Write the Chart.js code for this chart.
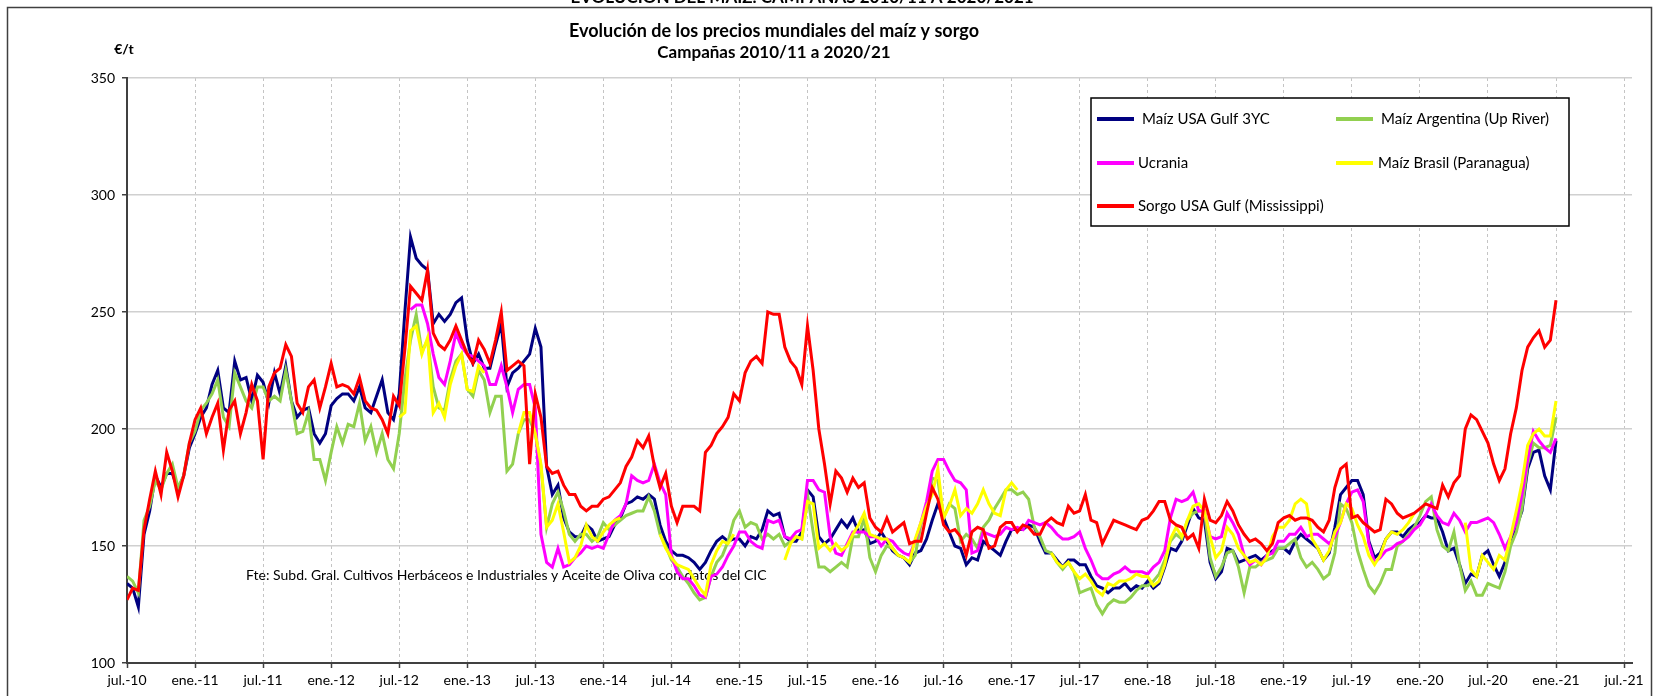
<!DOCTYPE html>
<html>
<head>
<meta charset="utf-8">
<script src="https://cdn.jsdelivr.net/npm/chart.js@4"></script>
<style>
  html, body { margin: 0; padding: 0; background: #fff; }
</style>
</head>
<body>
<canvas id="line-chart" width="1665" height="696"></canvas>
<script>
let tickLabels = [
  'jul.-10', 'ene.-11', 'jul.-11', 'ene.-12', 'jul.-12', 'ene.-13', 'jul.-13', 'ene.-14',
  'jul.-14', 'ene.-15', 'jul.-15', 'ene.-16', 'jul.-16', 'ene.-17', 'jul.-17', 'ene.-18',
  'jul.-18', 'ene.-19', 'jul.-19', 'ene.-20', 'jul.-20', 'ene.-21', 'jul.-21',
];

let usaGulf = [
  134, 132, 124, 155, 165, 180, 175, 181, 181, 174, 180, 192,
  198, 205, 209, 219, 225, 209, 207, 229, 221, 222, 212, 223,
  220, 211, 224, 215, 227, 212, 205, 208, 209, 198, 194, 198,
  210, 213, 215, 215, 212, 218, 209, 207, 214, 221, 207, 204,
  215, 250, 282, 273, 270, 268, 245, 249, 246, 249, 254, 256,
  238, 228, 232, 226, 226, 236, 245, 218, 224, 226, 229, 232,
  243, 235, 184, 172, 176, 162, 156, 154, 154, 159, 157, 152,
  153, 154, 159, 162, 168, 169, 171, 170, 172, 170, 159, 152,
  148, 146, 146, 145, 143, 140, 143, 148, 152, 154, 152, 153,
  153, 150, 154, 153, 157, 165, 163, 164, 154, 152, 152, 156,
  174, 171, 154, 151, 153, 157, 161, 158, 162, 156, 157, 151,
  152, 156, 152, 148, 146, 145, 142, 147, 148, 153, 161, 168,
  162, 156, 150, 149, 142, 145, 144, 152, 150, 148, 146, 152,
  157, 157, 157, 159, 158, 152, 147, 147, 144, 141, 144, 144,
  142, 142, 137, 133, 132, 130, 132, 132, 134, 131, 133, 132,
  135, 132, 134, 141, 149, 148, 152, 159, 166, 162, 161, 143,
  136, 139, 149, 148, 143, 144, 145, 146, 144, 146, 148, 149,
  149, 147, 152, 155, 153, 151, 149, 144, 147, 158, 172, 175,
  178, 178, 172, 152, 145, 147, 153, 156, 156, 154, 157, 159,
  160, 163, 162, 162, 156, 148, 149, 142, 134, 138, 137, 146,
  148, 142, 137, 143, 153, 158, 165, 183, 190, 191, 180, 174,
  195,
];

let argentina = [
  137, 135, 130, 161, 167, 178, 174, 181, 185, 175, 180, 194,
  199, 208, 211, 215, 221, 205, 201, 224, 218, 212, 209, 218,
  218, 212, 214, 212, 225, 212, 198, 199, 207, 187, 187, 178,
  190, 201, 194, 202, 201, 211, 195, 201, 190, 198, 187, 183,
  198, 221, 238, 249, 233, 238, 218, 209, 208, 221, 229, 232,
  217, 214, 225, 221, 207, 214, 214, 182, 185, 198, 204, 204,
  198, 184, 158, 168, 173, 165, 155, 152, 155, 155, 152, 154,
  160, 157, 159, 161, 163, 164, 165, 165, 171, 165, 155, 150,
  144, 141, 137, 134, 130, 127, 128, 137, 143, 146, 152, 161,
  165, 158, 160, 159, 153, 155, 153, 155, 150, 152, 154, 153,
  172, 156, 141, 141, 139, 141, 143, 141, 154, 154, 162, 145,
  139, 146, 150, 149, 146, 145, 143, 146, 159, 166, 179, 178,
  162, 168, 166, 152, 155, 153, 149, 158, 161, 166, 170, 174,
  174, 172, 173, 170, 158, 154, 148, 147, 143, 140, 143, 139,
  130, 131, 132, 125, 121, 125, 127, 126, 126, 128, 131, 133,
  133, 135, 138, 144, 152, 155, 153, 161, 164, 165, 165, 145,
  137, 141, 147, 148, 141, 130, 141, 141, 143, 144, 145, 149,
  149, 151, 153, 145, 141, 143, 140, 136, 138, 147, 168, 166,
  160, 148, 140, 133, 130, 134, 140, 140, 150, 152, 155, 158,
  163, 169, 171, 157, 150, 148, 156, 142, 131, 135, 129, 129,
  134, 133, 132, 139, 150, 156, 166, 185, 194, 192, 192, 193,
  205,
];

let ucrania = [
  null, null, null, null, null, null, null, null, null, null, null, null,
  null, null, null, null, null, null, null, null, null, null, null, null,
  null, null, null, null, null, null, null, null, null, null, null, null,
  null, null, null, null, null, null, null, null, null, null, null, null,
  null, null, 251, 253, 253, 245, 232, 222, 219, 229, 241, 235,
  232, 231, 229, 227, 219, 219, 227, 218, 207, 217, 219, 219,
  209, 155, 143, 141, 149, 141, 142, 145, 147, 150, 149, 150,
  149, 155, 161, 163, 168, 180, 178, 177, 178, 185, 177, 172,
  146, 139, 136, 136, 133, 129, 128, 137, 138, 141, 146, 150,
  156, 156, 152, 150, 149, 161, 160, 161, 154, 153, 156, 157,
  178, 178, 174, 173, 154, 147, 146, 151, 156, 156, 156, 154,
  154, 150, 153, 152, 149, 147, 146, 152, 160, 169, 182, 187,
  187, 182, 178, 177, 174, 147, 148, 156, 155, 154, 155, 158,
  157, 158, 157, 161, 160, 159, 160, 158, 155, 153, 153, 154,
  156, 149, 144, 138, 136, 136, 138, 139, 141, 139, 139, 139,
  138, 141, 143, 148, 162, 170, 169, 170, 173, 165, 165, 154,
  153, 154, 164, 160, 155, 146, 142, 144, 142, 146, 147, 152,
  152, 155, 155, 158, 154, 155, 155, 153, 151, 154, 160, 168,
  173, 174, 169, 151, 143, 145, 148, 149, 151, 152, 154, 157,
  159, 163, 168, 163, 160, 159, 164, 161, 156, 160, 160, 161,
  162, 160, 155, 149, 154, 160, 172, 187, 199, 195, 192, 190,
  196,
];

let brasil = [
  null, null, null, null, null, null, null, null, null, null, null, null,
  null, null, null, null, null, null, null, null, null, null, null, null,
  null, null, null, null, null, null, null, null, null, null, null, null,
  null, null, null, null, null, null, null, null, null, null, null, null,
  205, 207, 242, 244, 232, 239, 207, 211, 205, 219, 227, 232,
  217, 216, 227, 224, null, null, null, null, null, 198, 207, 207,
  198, 185, 158, 161, 168, 156, 143, 145, 150, 159, 154, 152,
  156, 159, 161, 162, null, null, null, null, null, null, 155, 149,
  145, 142, 141, 140, 136, 132, 129, 142, 148, 152, 151, 155,
  null, null, null, null, null, null, null, null, 144, 151, 154, 153,
  169, 168, 149, 151, 148, 151, 148, 150, 155, 159, 164, 155,
  154, 153, 153, 149, 146, 145, 143, 153, 160, 167, 172, 183,
  162, 167, 174, 163, 166, 164, 168, 174, 168, 164, 163, 174,
  177, 174, null, null, null, null, null, 147, 143, 141, 143, 139,
  136, 138, 135, 131, 129, 134, 133, 135, 135, 136, 138, 137,
  137, 133, 135, 142, 153, 158, 154, 161, 167, 168, 165, 154,
  145, 148, 158, 155, 149, 146, 143, 144, 142, 145, 154, 158,
  158, 161, 168, 170, 168, 153, 149, 144, 148, 156, 160, 168,
  166, 159, 154, 146, 142, 146, 153, 156, 155, 157, 160, 164,
  null, null, null, null, null, null, null, null, 160, 140, 137, 146,
  143, 140, 146, 144, 154, 165, 177, 193, 198, 200, 197, 197,
  212,
];

let sorgo = [
  127, 132, 131, 157, 170, 182, 172, 190, 182, 171, 180, 194,
  204, 209, 198, 205, 211, 191, 208, 212, 198, 207, 219, 212,
  187, 218, 224, 226, 236, 231, 211, 207, 218, 221, 209, 218,
  228, 218, 219, 218, 215, 222, 212, 209, 208, 204, 198, 214,
  210, 234, 261, 258, 255, 268, 241, 236, 234, 238, 244, 238,
  232, 228, 238, 234, 228, 238, 250, 225, 227, 229, 227, 185,
  215, 205, 184, 181, 182, 176, 172, 172, 167, 165, 167, 167,
  170, 171, 174, 177, 184, 188, 195, 192, 197, 184, 175, 181,
  167, 160, 167, 167, 167, 165, 190, 193, 198, 201, 205, 215,
  212, 224, 229, 231, 228, 250, 249, 249, 235, 229, 226, 219,
  244, 225, 200, 185, 168, 182, 179, 173, 179, 175, 177, 162,
  158, 156, 162, 156, 158, 160, 151, 152, 152, 164, 175, 170,
  159, 156, 157, 154, 146, 156, 158, 157, 149, 150, 158, 160,
  160, 156, 159, 158, 155, 155, 160, 162, 160, 159, 167, 164,
  165, 172, 161, 160, 151, 156, 161, 160, 159, 158, 157, 161,
  162, 165, 169, 169, 161, 159, 158, 153, 155, 149, 170, 161,
  160, 163, 169, 165, 159, 155, 152, 153, 151, 148, 151, 160,
  162, 163, 161, 162, 162, 161, 158, 156, 161, 175, 183, 185,
  162, 163, 160, 158, 156, 157, 170, 168, 164, 162, 163, 164,
  166, 168, 167, 166, 176, 171, 177, 180, 200, 206, 204, 199,
  194, 185, 178, 183, 198, 209, 225, 235, 239, 242, 235, 238,
  255,
];

let seriesNames = [
  'Maíz USA Gulf 3YC',
  'Maíz Argentina (Up River)',
  'Ucrania',
  'Maíz Brasil (Paranagua)',
  'Sorgo USA Gulf (Mississippi)',
];
let seriesColors = ['#000080', '#92d050', '#ff00ff', '#ffff00', '#ff0000'];

let font = 'Lato, "Open Sans", sans-serif';

// one point every half month, x in months since jul.-10
function toPoints(values) {
  return values.map((v, i) => ({x: i / 2, y: v}));
}

let allSeries = [usaGulf, argentina, ucrania, brasil, sorgo];

let datasets = allSeries.map((values, i) => ({
  label: seriesNames[i],
  data: toPoints(values),
  borderColor: seriesColors[i],
  backgroundColor: seriesColors[i],
  borderWidth: 3,
  pointRadius: 0,
  tension: 0,
  spanGaps: false,
  fill: false,
  order: allSeries.length - i,   // sorgo on top, like the original
}));

let decorations = {
  id: 'decorations',
  beforeDatasetsDraw(chart) {
    let ctx = chart.ctx;
    ctx.save();
    ctx.fillStyle = '#000';
    ctx.font = '14px ' + font;
    ctx.textBaseline = 'middle';
    ctx.fillText('Fte: Subd. Gral. Cultivos Herbáceos e Industriales y Aceite de Oliva con datos del CIC', 246, 575);
    ctx.restore();
  },
  afterDraw(chart) {
    let ctx = chart.ctx;
    ctx.save();

    // outer frame of the sheet chart
    ctx.strokeStyle = '#404040';
    ctx.lineWidth = 1.5;
    ctx.beginPath();
    ctx.moveTo(7.5, 700);
    ctx.lineTo(7.5, 7.5);
    ctx.lineTo(1651.5, 7.5);
    ctx.lineTo(1651.5, 700);
    ctx.stroke();

    ctx.fillStyle = '#000';
    ctx.textAlign = 'center';
    ctx.textBaseline = 'alphabetic';
    ctx.font = 'bold 17px ' + font;
    ctx.fillText('EVOLUCIÓN DEL MAÍZ. CAMPAÑAS 2010/11 A 2020/2021', 802, 3);

    ctx.textBaseline = 'middle';
    ctx.font = 'bold 18px ' + font;
    ctx.fillText('Evolución de los precios mundiales del maíz y sorgo', 774, 31);
    ctx.font = 'bold 17px ' + font;
    ctx.fillText('Campañas 2010/11 a 2020/21', 774, 53);
    ctx.font = 'bold 14px ' + font;
    ctx.fillText('€/t', 124, 49);

    // legend box, two columns
    ctx.fillStyle = '#fff';
    ctx.fillRect(1091, 98, 478, 128);
    ctx.strokeStyle = '#000';
    ctx.lineWidth = 1.5;
    ctx.strokeRect(1091, 98, 478, 128);
    let slots = [
      {x: 1097, y: 119, tx: 1142},
      {x: 1336, y: 119, tx: 1381},
      {x: 1097, y: 163, tx: 1138},
      {x: 1336, y: 163, tx: 1378},
      {x: 1097, y: 206, tx: 1138},
    ];
    ctx.font = '15px ' + font;
    ctx.textAlign = 'left';
    slots.forEach((s, i) => {
      ctx.strokeStyle = seriesColors[i];
      ctx.lineWidth = 4;
      ctx.beginPath();
      ctx.moveTo(s.x, s.y);
      ctx.lineTo(s.x + 37, s.y);
      ctx.stroke();
      ctx.fillStyle = '#000';
      ctx.fillText(seriesNames[i], s.tx, s.y);
    });
    ctx.restore();
  }
};

let line_chart = new Chart(document.getElementById('line-chart'), {
  type: 'line',
  data: {datasets: datasets},
  options: {
    responsive: false,
    animation: false,
    layout: {padding: {left: 0, right: 33, top: 78, bottom: 0}},
    plugins: {
      legend: {display: false},
      tooltip: {enabled: false},
    },
    scales: {
      x: {
        type: 'linear',
        min: 0,
        max: 132.7,
        afterBuildTicks: (scale) => {
          scale.ticks = tickLabels.map((t, i) => ({value: i * 6}));
        },
        afterFit: (scale) => { scale.height = 33; },
        ticks: {
          callback: (value) => tickLabels[Math.round(value / 6)],
          autoSkip: false,
          maxRotation: 0,
          padding: 4,
          color: '#000',
          font: {family: font, size: 14},
        },
        grid: {color: '#c4c4c4', lineWidth: 1, tickLength: 5, tickColor: '#404040', tickWidth: 1.5},
        border: {color: '#404040', width: 2, dash: [3, 3]},
      },
      y: {
        min: 100,
        max: 350,
        afterFit: (scale) => { scale.width = 127; },
        ticks: {
          stepSize: 50,
          padding: 7,
          color: '#000',
          font: {family: font, size: 14},
        },
        grid: {color: '#d0d0d0', lineWidth: 1.5, tickLength: 5, tickColor: '#404040', tickWidth: 1.5},
        border: {color: '#404040', width: 2},
      },
    },
  },
  plugins: [decorations],
});
</script>
</body>
</html>
